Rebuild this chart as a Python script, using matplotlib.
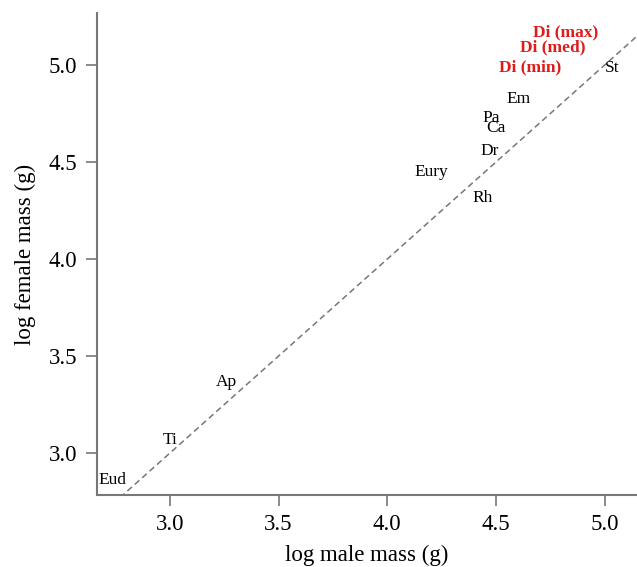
import matplotlib
matplotlib.use("Agg")
import matplotlib.pyplot as plt
import numpy as np

plt.rcParams['font.family'] = ['Liberation Serif', 'DejaVu Serif']

# species labels placed at (log male mass, log female mass)
labels = ["Eud", "Ti", "Ap", "Eury", "Rh", "Dr", "Ca", "Pa", "Em", "St"]
male = [2.738, 3.0, 3.262, 4.205, 4.439, 4.471, 4.499, 4.48, 4.605, 5.037]
female = [2.861, 3.067, 3.366, 4.448, 4.314, 4.557, 4.675, 4.727, 4.825, 4.985]

di_labels = ["Di (min)", "Di (med)", "Di (max)"]
di_male = [4.655, 4.761, 4.821]
di_female = [4.990, 5.093, 5.170]

fig = plt.figure(figsize=(6.37, 5.67), dpi=100)
ax = fig.add_axes([0.152, 0.127, 0.846, 0.85])

xlim = (2.664, 5.143)
ylim = (2.784, 5.268)
ax.set_xlim(xlim)
ax.set_ylim(ylim)

# 1:1 line
line_x = np.array([2.6, 5.2])
ax.plot(line_x, line_x, ls=(0, (4, 2.5)), color="#777777", lw=1.1)

for lab, x, y in zip(labels, male, female):
    ax.text(x, y, lab, ha="center", va="center", fontsize=12.5, color="black")
for lab, x, y in zip(di_labels, di_male, di_female):
    ax.text(x, y, lab, ha="center", va="center", fontsize=12.5,
            color="#dd1c1c", fontweight="bold")

ax.set_xticks([3.0, 3.5, 4.0, 4.5, 5.0])
ax.set_yticks([3.0, 3.5, 4.0, 4.5, 5.0])
ax.set_xticklabels(["3.0", "3.5", "4.0", "4.5", "5.0"])
ax.set_yticklabels(["3.0", "3.5", "4.0", "4.5", "5.0"])
ax.tick_params(labelsize=16.5, color="#777777", length=8, width=1.2, pad=6)

for s in ["top", "right"]:
    ax.spines[s].set_visible(False)
for s in ["left", "bottom"]:
    ax.spines[s].set_color("#777777")
    ax.spines[s].set_linewidth(1.5)

ax.set_xlabel("log male mass (g)", fontsize=16.5, labelpad=7)
ax.set_ylabel("log female mass (g)", fontsize=16.5, labelpad=9)

fig.savefig("out.png", dpi=100)
